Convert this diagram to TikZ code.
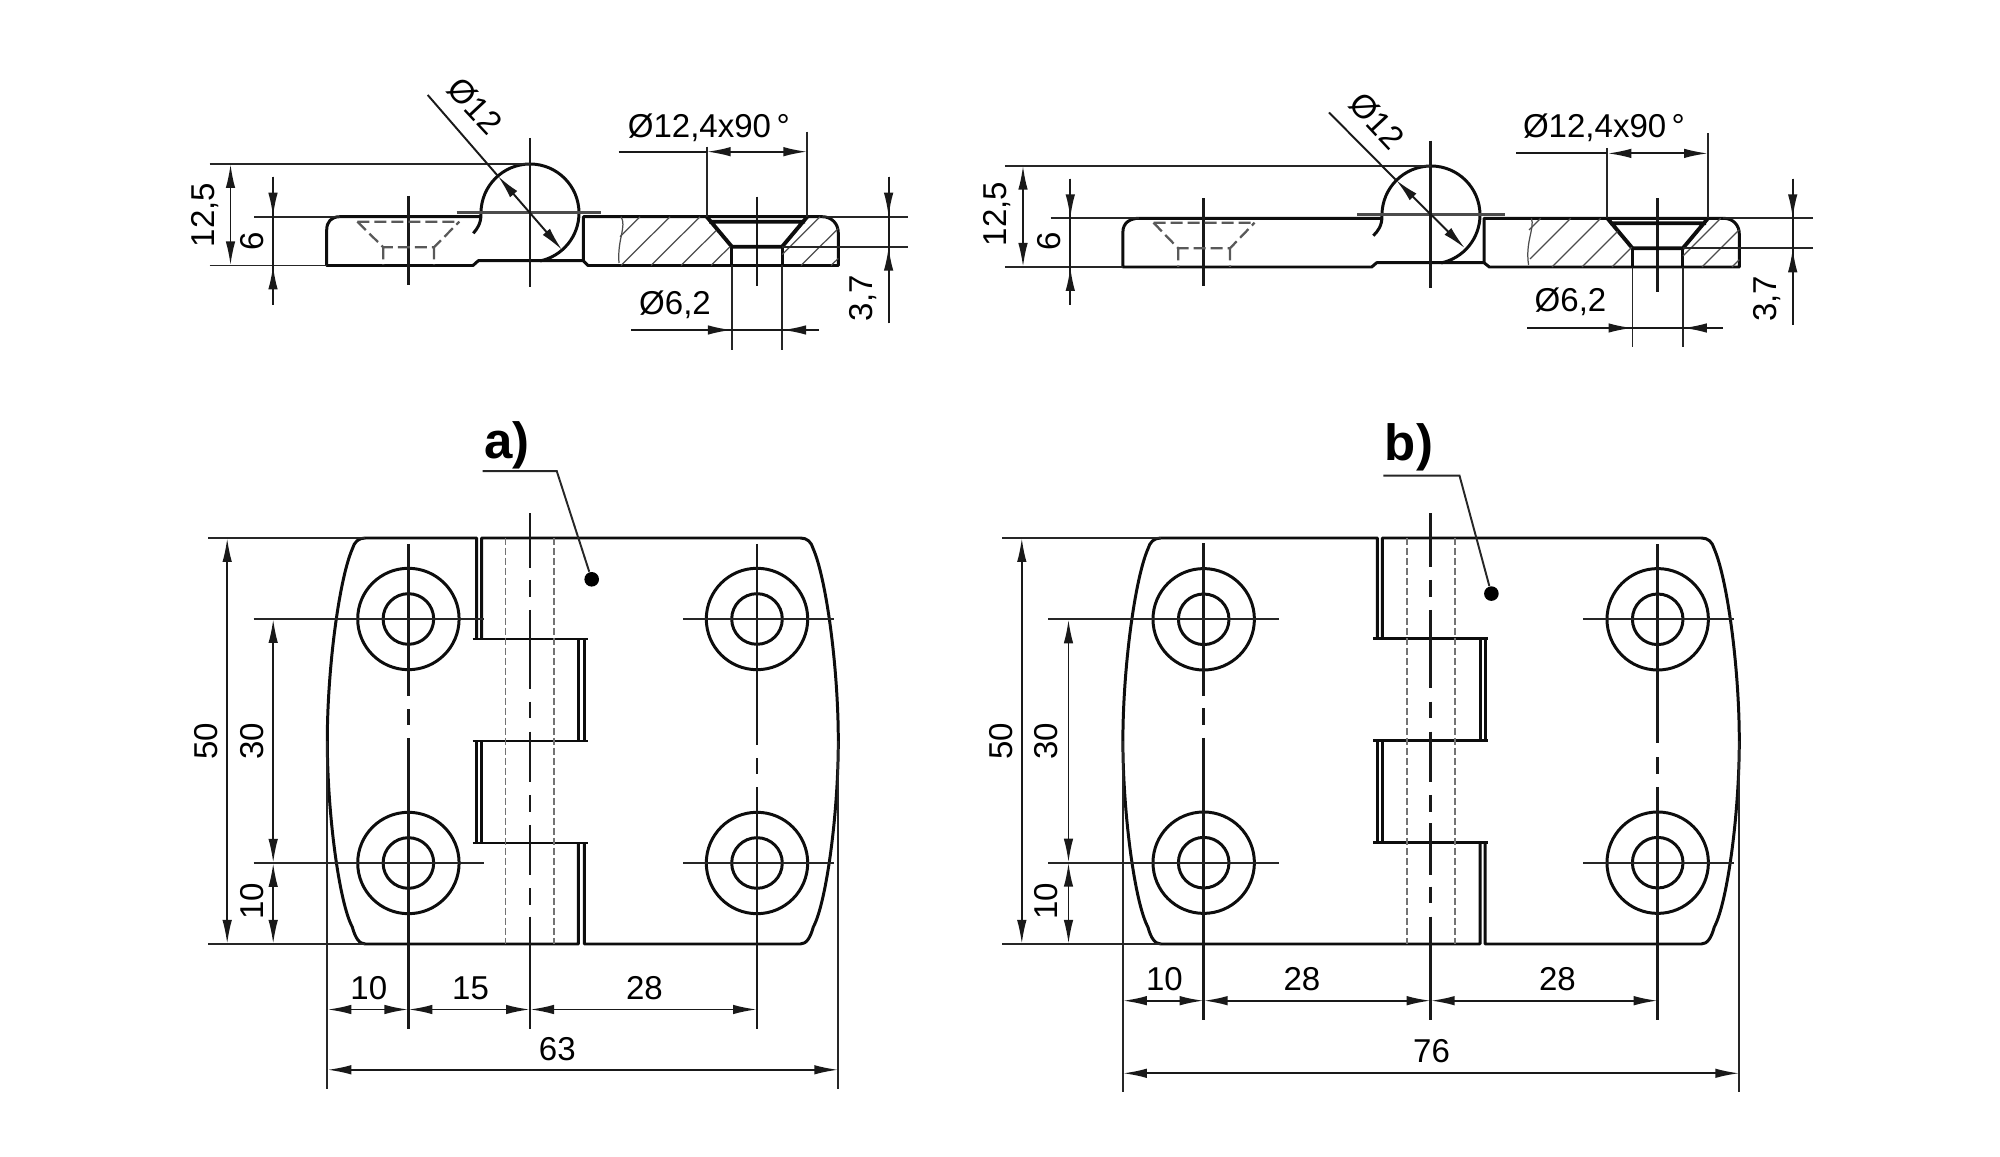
\documentclass[tikz,border=0pt]{standalone}
\usepackage{fontspec}
\setmainfont{Liberation Sans}
\usetikzlibrary{arrows.meta}
\tikzstyle{bodyline}=[line width=0.85pt,black!95,line join=round]
\tikzstyle{axisline}=[line width=0.8pt,black!90]
\tikzstyle{thinline}=[line width=0.55pt,black!85]
\tikzstyle{dimline}=[line width=0.55pt,black!90]
\tikzstyle{pinline}=[line width=1pt,black!70]
\tikzstyle{hiddenline}=[line width=0.65pt,black!65,dash pattern=on 1.2mm off 0.5mm]
\tikzstyle{boreline}=[line width=0.5pt,black!55,dash pattern=on 0.7mm off 0.3mm]
\tikzstyle{hatchline}=[line width=0.35pt,black!70]
\tikzstyle{dimlabel}=[inner sep=0pt,font=\fontsize{9.4}{11}\selectfont]
\tikzstyle{partlabel}=[inner sep=0pt,font=\fontsize{14.5}{16}\selectfont\bfseries]
\begin{document}
\begin{tikzpicture}[x=0.1mm,y=-0.1mm,>={Latex[length=2.4mm,width=0.95mm]}]
            \useasboundingbox (0,0) rectangle (2000,1157);

            % HINGE A, SIDE VIEW

            \draw[bodyline] (481,216.7) -- (340,216.7) .. controls (331,216.7) and (326.7,222) .. (326.7,230) -- (326.7,265.5) -- (473,265.5) -- (478.3,260.7) -- (583.3,260.7) -- (583.3,216.7) -- (822,216.7) .. controls (832,216.7) and (838.3,224) .. (838.3,233) -- (838.3,265.5) -- (588,265.5) -- (583.3,260.7);
            \draw[bodyline] (481,213) arc[start angle=180,end angle=-78,radius=4.9mm];
            \draw[bodyline] (481,214) .. controls (481,224) and (477,229) .. (473.3,233.3);
            \draw[pinline] (456.7,212.5) -- (601,212.5);
            \draw[axisline] (530,138) -- (530,286.7);
            \draw[axisline] (408.3,196) -- (408.3,285);
            \draw[axisline] (757,196.7) -- (757,286);
            \draw[hiddenline] (357.3,221.7) -- (459.3,221.7) (357.3,221.7) -- (383.3,247.3) -- (434,247.3) -- (459.3,221.7) (383.3,247.3) -- (383.3,265) (434,247.3) -- (434,265);

            \draw[bodyline,line width=1.1pt] (706.7,216.7) -- (731.9,246.7) -- (782.1,246.7) -- (807.3,216.7) (709,221.7) -- (805,221.7);
            \draw[bodyline] (731.9,246.7) -- (731.9,265.5) (782.1,246.7) -- (782.1,265.5);
            \draw[hatchline] (621,216.7) .. controls (627,226) and (617,240) .. (619,263);
            \draw[hatchline] (640,216.7) -- (620,236.7);
            \draw[hatchline] (670,216.7) -- (621,265.5);
            \draw[hatchline] (700,216.7) -- (651,265.5);
            \draw[hatchline] (716.1,230.6) -- (681,265.5);
            \draw[hatchline] (730.2,246.5) -- (711,265.5);
            \draw[hatchline] (820,216.7) -- (782.1,254.6);
            \draw[hatchline] (838.3,228.4) -- (801,265.5);
            \draw[hatchline] (838.3,258.4) -- (831,265.5);

            \draw[thinline] (209.6,164) -- (530,164);
            \draw[thinline] (209.6,265.5) -- (326.7,265.5);
            \draw[thinline] (254,216.7) -- (340,216.7);
            \draw[thinline] (822,216.7) -- (908.4,216.7);
            \draw[thinline] (782.1,246.7) -- (908.4,246.7);
            \draw[dimline,<->] (230.5,164) -- (230.5,265.5);
            \draw[dimline] (273,176.7) -- (273,305);
            \draw[dimline,->] (273,176.7) -- (273,216.7);
            \draw[dimline,->] (273,305) -- (273,265.5);
            \draw[dimline] (888.6,176.7) -- (888.6,323.3);
            \draw[dimline,->] (888.6,176.7) -- (888.6,216.7);
            \draw[dimline,->] (888.6,323.3) -- (888.6,246.7);
            \draw[dimline] (427.7,95) -- (497.9,176);
            \draw[dimline,<->] (497.9,176) -- (562.1,250);
            \draw[thinline] (706.7,146.7) -- (706.7,216.7);
            \draw[thinline] (807.3,131.7) -- (807.3,216.7);
            \draw[dimline] (618.5,151.7) -- (706.7,151.7);
            \draw[dimline,<->] (706.7,151.7) -- (807.3,151.7);
            \draw[thinline] (731.9,265.5) -- (731.9,350);
            \draw[thinline] (782.1,265.5) -- (782.1,350);
            \draw[dimline] (631,330) -- (819,330);
            \draw[dimline,->] (680,330) -- (731.9,330);
            \draw[dimline,->] (819,330) -- (782.1,330);

            \node[dimlabel,rotate=90] (as125) at (204.7,215) {12,5};
            \node[dimlabel,rotate=90] (as6) at (251.8,241.7) {6};
            \node[dimlabel,rotate=90] (as37) at (863,298.3) {3,7};
            \node[dimlabel,rotate=-47] (asd12) at (474.7,106) {Ø12};
            \node[dimlabel] (asd124) at (708.8,127.5) {Ø12,4x90\,°};
            \node[dimlabel] (asd62) at (675,305) {Ø6,2};

            % HINGE A, FRONT VIEW

            \draw[bodyline] (476.7,639) -- (476.7,538) -- (365.3,538) .. controls (358.3,538) and (354.3,542) .. (352.3,549) .. controls (339.3,579) and (327.3,668) .. (327.3,741) .. controls (327.3,814) and (339.3,903) .. (352.3,927) .. controls (355.3,938) and (359.3,944) .. (365.3,944) -- (578.3,944) -- (578.3,843);
            \draw[bodyline] (481.7,639) -- (481.7,538) -- (800.3,538) .. controls (807.3,538) and (811.3,542) .. (813.3,549) .. controls (826.3,579) and (838.3,668) .. (838.3,741) .. controls (838.3,814) and (826.3,903) .. (813.3,927) .. controls (810.3,938) and (806.3,944) .. (800.3,944) -- (584.3,944) -- (584.3,843);
            \draw[bodyline] (472.7,639) -- (587.7,639) (472.7,741) -- (587.7,741) (472.7,843) -- (587.7,843);
            \draw[bodyline] (578.3,639) -- (578.3,741) (584.3,639) -- (584.3,741);
            \draw[bodyline] (476.7,741) -- (476.7,843) (481.7,741) -- (481.7,843);
            \draw[boreline] (505.5,538) -- (505.5,944);
            \draw[boreline] (554.3,538) -- (554.3,944);
            \draw[axisline] (530,513.3) -- (530,567.7) (530,580) -- (530,596.7) (530,610) -- (530,688.7) (530,701.7) -- (530,718.3) (530,731.7) -- (530,781.7) (530,795) -- (530,811.7) (530,825) -- (530,875) (530,888.3) -- (530,905) (530,916.7) -- (530,1028.7);

            \draw[bodyline] (408.4,619) circle (5.07mm);
            \draw[bodyline] (408.4,619) circle (2.53mm);
            \draw[bodyline] (408.4,863) circle (5.07mm);
            \draw[bodyline] (408.4,863) circle (2.53mm);
            \draw[bodyline] (757,619) circle (5.07mm);
            \draw[bodyline] (757,619) circle (2.53mm);
            \draw[bodyline] (757,863) circle (5.07mm);
            \draw[bodyline] (757,863) circle (2.53mm);
            \draw[axisline] (408.4,544) -- (408.4,696) (408.4,709.3) -- (408.4,725) (408.4,738.3) -- (408.4,1028.7);
            \draw[axisline] (757,544) -- (757,745) (757,758.4) -- (757,774) (757,787.5) -- (757,1028.7);
            \draw[thinline] (253.5,619) -- (484,619) (683,619) -- (834,619);
            \draw[thinline] (253.5,863) -- (484,863) (683,863) -- (834,863);

            \draw[thinline] (208,538) -- (365.3,538);
            \draw[thinline] (208,944) -- (365.3,944);
            \draw[thinline] (327.3,741) -- (327.3,1089);
            \draw[thinline] (838.3,741) -- (838.3,1089);
            \draw[dimline,<->] (227.2,538) -- (227.2,944);
            \draw[dimline,<->] (273.2,619) -- (273.2,863);
            \draw[dimline,<->] (273.2,863) -- (273.2,944);
            \draw[dimline,<->] (327.3,1009.5) -- (408.4,1009.5);
            \draw[dimline,<->] (408.4,1009.5) -- (530,1009.5);
            \draw[dimline,<->] (530,1009.5) -- (757,1009.5);
            \draw[dimline,<->] (327.3,1069.8) -- (838.3,1069.8);

            \node[dimlabel,rotate=90] (af50) at (205.7,741.5) {50};
            \node[dimlabel,rotate=90] (af30) at (252.6,741.5) {30};
            \node[dimlabel,rotate=90] (af10) at (252.6,901.4) {10};
            \node[dimlabel] (afw10) at (368.8,988.5) {10};
            \node[dimlabel] (afw15) at (470.6,988.5) {15};
            \node[dimlabel] (afw28) at (644.4,988.5) {28};
            \node[dimlabel] (afw63) at (557.3,1048.8) {63};

            \node[partlabel] (pa) at (507,445) {a)};
            \coordinate (pakink) at (556.8,471.2);
            \node[circle,fill=black,inner sep=0pt,minimum size=1.46mm] (padot) at (591.7,579.3) {};
            \draw[thinline] (482.7,471.2) -- (pakink) -- (padot);

            % HINGE B, SIDE VIEW

            \draw[bodyline] (1382,218.3) -- (1139,218.3) .. controls (1130,218.3) and (1122.9,223) .. (1122.9,232) -- (1122.9,267) -- (1371.7,267) -- (1376.7,262.7) -- (1484,262.7) -- (1484,218.3) -- (1723.3,218.3) .. controls (1733,218.3) and (1739.3,225) .. (1739.3,234) -- (1739.3,267) -- (1489.3,267) -- (1484,262.7);
            \draw[bodyline] (1382,215) arc[start angle=180,end angle=-78,radius=4.9mm];
            \draw[bodyline] (1382,216) .. controls (1382,226) and (1378,231) .. (1373.3,235.7);
            \draw[pinline] (1357,214.5) -- (1505,214.5);
            \draw[axisline] (1430.7,140.7) -- (1430.7,288.3);
            \draw[axisline] (1203.7,198.3) -- (1203.7,286);
            \draw[axisline] (1657.7,198.3) -- (1657.7,291.7);
            \draw[hiddenline] (1153.5,222.7) -- (1254.6,222.7) (1153.5,222.7) -- (1178.2,248.3) -- (1230,248.3) -- (1254.6,222.7) (1178.2,248.3) -- (1178.2,267) (1230,248.3) -- (1230,267);

            \draw[bodyline,line width=1.1pt] (1607.4,218.3) -- (1632.5,248.3) -- (1682.8,248.3) -- (1708,218.3) (1610,223.3) -- (1706,223.3);
            \draw[bodyline] (1632.5,248.3) -- (1632.5,267) (1682.8,248.3) -- (1682.8,267);
            \draw[hatchline] (1531.4,218.3) .. controls (1535,228) and (1525,242) .. (1528.6,265);
            \draw[hatchline] (1540.7,218.3) -- (1529,230);
            \draw[hatchline] (1570.7,218.3) -- (1530,259);
            \draw[hatchline] (1600.7,218.3) -- (1552,267);
            \draw[hatchline] (1617.6,231.4) -- (1582,267);
            \draw[hatchline] (1631.7,247.3) -- (1612,267);
            \draw[hatchline] (1720.7,218.3) -- (1683,256);
            \draw[hatchline] (1739.3,229.7) -- (1702,267);
            \draw[hatchline] (1739.3,259.7) -- (1732,267);

            \draw[thinline] (1004.8,165.7) -- (1430.7,165.7);
            \draw[thinline] (1004.8,267) -- (1122.9,267);
            \draw[thinline] (1050.7,218.3) -- (1139,218.3);
            \draw[thinline] (1723.3,218.3) -- (1812.8,218.3);
            \draw[thinline] (1682.8,248.3) -- (1812.8,248.3);
            \draw[dimline,<->] (1023,165.7) -- (1023,267);
            \draw[dimline] (1070.3,178.6) -- (1070.3,305);
            \draw[dimline,->] (1070.3,178.6) -- (1070.3,218.3);
            \draw[dimline,->] (1070.3,305) -- (1070.3,267);
            \draw[dimline] (1792.7,178.6) -- (1792.7,325);
            \draw[dimline,->] (1792.7,178.6) -- (1792.7,218.3);
            \draw[dimline,->] (1792.7,325) -- (1792.7,248.3);
            \draw[dimline] (1329,112.5) -- (1396,180);
            \draw[dimline,<->] (1396,180) -- (1465,248.3);
            \draw[thinline] (1607.4,147.8) -- (1607.4,218.3);
            \draw[thinline] (1708,133.5) -- (1708,218.3);
            \draw[dimline] (1516,153.4) -- (1607.4,153.4);
            \draw[dimline,<->] (1607.4,153.4) -- (1708,153.4);
            \draw[thinline] (1632.5,267) -- (1632.5,346.7);
            \draw[thinline] (1682.8,267) -- (1682.8,346.7);
            \draw[dimline] (1527.4,328) -- (1722.7,328);
            \draw[dimline,->] (1580,328) -- (1632.5,328);
            \draw[dimline,->] (1722.7,328) -- (1682.8,328);

            \node[dimlabel,rotate=90] (bs125) at (997.3,214) {12,5};
            \node[dimlabel,rotate=90] (bs6) at (1049,241.6) {6};
            \node[dimlabel,rotate=90] (bs37) at (1767,299) {3,7};
            \node[dimlabel,rotate=-47] (bsd12) at (1377,121) {Ø12};
            \node[dimlabel] (bsd124) at (1604,128) {Ø12,4x90\,°};
            \node[dimlabel] (bsd62) at (1570.5,302) {Ø6,2};

            % HINGE B, FRONT VIEW

            \draw[bodyline] (1377.3,639) -- (1377.3,538) -- (1160.9,538) .. controls (1153.9,538) and (1149.9,542) .. (1147.9,549) .. controls (1134.9,579) and (1122.9,668) .. (1122.9,741) .. controls (1122.9,814) and (1134.9,903) .. (1147.9,927) .. controls (1150.9,938) and (1154.9,944) .. (1160.9,944) -- (1480,944) -- (1480,843);
            \draw[bodyline] (1382.3,639) -- (1382.3,538) -- (1701.3,538) .. controls (1708.3,538) and (1712.3,542) .. (1714.3,549) .. controls (1727.3,579) and (1739.3,668) .. (1739.3,741) .. controls (1739.3,814) and (1727.3,903) .. (1714.3,927) .. controls (1711.3,938) and (1707.3,944) .. (1701.3,944) -- (1485,944) -- (1485,843);
            \draw[bodyline] (1373.3,638.5) -- (1488.3,638.5) (1373.3,740.7) -- (1488.3,740.7) (1373.3,842.7) -- (1488.3,842.7);
            \draw[bodyline] (1480,638.5) -- (1480,740.7) (1485,638.5) -- (1485,740.7);
            \draw[bodyline] (1377.3,740.7) -- (1377.3,842.7) (1382.3,740.7) -- (1382.3,842.7);
            \draw[boreline] (1406.7,538) -- (1406.7,944);
            \draw[boreline] (1455,538) -- (1455,944);
            \draw[axisline] (1430.7,513.3) -- (1430.7,566.7) (1430.7,580) -- (1430.7,596.7) (1430.7,610) -- (1430.7,688.3) (1430.7,701.7) -- (1430.7,718.3) (1430.7,731.7) -- (1430.7,781.7) (1430.7,795) -- (1430.7,811.7) (1430.7,823.3) -- (1430.7,875) (1430.7,886.7) -- (1430.7,903.3) (1430.7,916.7) -- (1430.7,1020.5);

            \draw[bodyline] (1203.7,619.3) circle (5.07mm);
            \draw[bodyline] (1203.7,619.3) circle (2.53mm);
            \draw[bodyline] (1203.7,862.7) circle (5.07mm);
            \draw[bodyline] (1203.7,862.7) circle (2.53mm);
            \draw[bodyline] (1657.7,619.3) circle (5.07mm);
            \draw[bodyline] (1657.7,619.3) circle (2.53mm);
            \draw[bodyline] (1657.7,862.7) circle (5.07mm);
            \draw[bodyline] (1657.7,862.7) circle (2.53mm);
            \draw[axisline] (1203.7,543.3) -- (1203.7,696) (1203.7,708.3) -- (1203.7,725) (1203.7,738) -- (1203.7,1020.5);
            \draw[axisline] (1657.7,544.5) -- (1657.7,742.8) (1657.7,757.5) -- (1657.7,774) (1657.7,787) -- (1657.7,1020.5);
            \draw[thinline] (1048,619.3) -- (1279.3,619.3) (1583,619.3) -- (1734,619.3);
            \draw[thinline] (1048,862.7) -- (1279.3,862.7) (1583,862.7) -- (1734,862.7);

            \draw[thinline] (1002,538) -- (1160.9,538);
            \draw[thinline] (1002,944) -- (1160.9,944);
            \draw[thinline] (1122.9,741) -- (1122.9,1092.5);
            \draw[thinline] (1739.3,741) -- (1739.3,1092.5);
            \draw[dimline,<->] (1021.8,538) -- (1021.8,944);
            \draw[dimline,<->] (1068.5,619.3) -- (1068.5,862.7);
            \draw[dimline,<->] (1068.5,862.7) -- (1068.5,944);
            \draw[dimline,<->] (1122.9,1000.7) -- (1203.7,1000.7);
            \draw[dimline,<->] (1203.7,1000.7) -- (1430.7,1000.7);
            \draw[dimline,<->] (1430.7,1000.7) -- (1657.7,1000.7);
            \draw[dimline,<->] (1122.9,1073.3) -- (1739.3,1073.3);

            \node[dimlabel,rotate=90] (bf50) at (1000.9,741) {50};
            \node[dimlabel,rotate=90] (bf30) at (1046.5,741) {30};
            \node[dimlabel,rotate=90] (bf10) at (1046.5,901) {10};
            \node[dimlabel] (bfw10) at (1164.4,979) {10};
            \node[dimlabel] (bfwl28) at (1302,979) {28};
            \node[dimlabel] (bfwr28) at (1557.4,979) {28};
            \node[dimlabel] (bfw76) at (1431.6,1051) {76};

            \node[partlabel] (pb) at (1409,447) {b)};
            \coordinate (pbkink) at (1459.5,475.6);
            \node[circle,fill=black,inner sep=0pt,minimum size=1.46mm] (pbdot) at (1491.4,593.6) {};
            \draw[thinline] (1383.4,475.6) -- (pbkink) -- (pbdot);

\end{tikzpicture}
\end{document}
